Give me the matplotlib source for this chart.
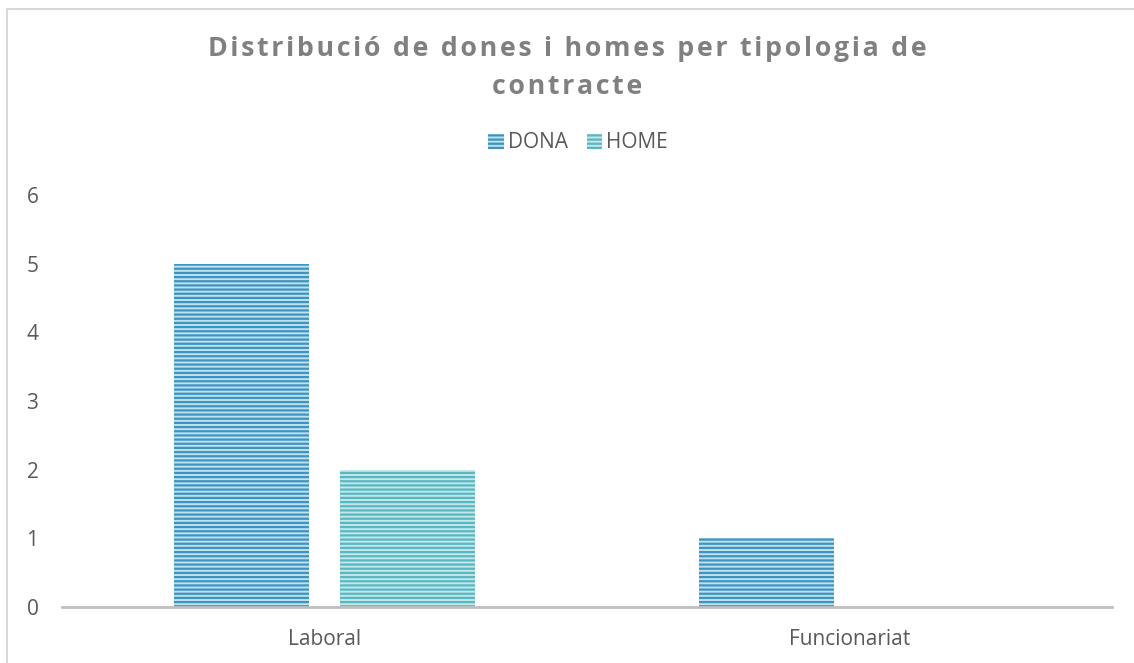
import matplotlib.pyplot as plt
import numpy as np
from matplotlib.lines import Line2D

plt.rcParams['font.family'] = ['Open Sans', 'DejaVu Sans']
plt.rcParams['hatch.linewidth'] = 1.6

# data
categories = ['Laboral', 'Funcionariat']
dona = [5, 1]
home = [2, 0]
series_names = ['DONA', 'HOME']

title_text = 'Distribució de dones i homes per tipologia de\ncontracte'

fig = plt.figure(figsize=(11.34, 6.63), dpi=100)
ax = fig.add_axes([62 / 1134, 1 - 607 / 663, 1050 / 1134, 412 / 663])

x = np.arange(len(categories))
w = 0.258
off = 0.158

ax.bar(x - off, dona, w, color='#C2E1EF', edgecolor='#3A95C2', hatch='----',
       linewidth=0, label=series_names[0])
ax.bar(x + off, home, w, color='#C4E7EA', edgecolor='#58B8C1', hatch='----',
       linewidth=0, label=series_names[1])

ax.set_xlim(-0.5, 1.5)
ax.set_ylim(0, 6)
ax.set_yticks(range(0, 7))
ax.set_xticks(x)
ax.set_xticklabels(categories)
ax.tick_params(axis='both', length=0, labelsize=15, labelcolor='#595959')
ax.tick_params(axis='y', pad=17)
ax.tick_params(axis='x', pad=16)
for s in ['left', 'right', 'top']:
    ax.spines[s].set_visible(False)
ax.spines['bottom'].set_color('#BFBFBF')
ax.spines['bottom'].set_linewidth(2)

# letter-spaced title
def spaced(s):
    lines = []
    for line in s.split('\n'):
        words = ['\u200a'.join(list(wd)) for wd in line.split(' ')]
        lines.append(' \u2009'.join(words))
    return '\n'.join(lines)

fig.text(0.5, 1 - 68 / 663, spaced(title_text), ha='center', va='center',
         fontsize=19.3, fontweight='bold', color='#808080', linespacing=1.6)

leg = fig.legend(loc='center', bbox_to_anchor=(578 / 1134, 1 - 143 / 663), ncol=2,
                 frameon=False, fontsize=15, handlelength=0.75, handleheight=0.75,
                 handletextpad=0.2, columnspacing=0.9)
for t in leg.get_texts():
    t.set_color('#595959')

# chart area border (top and left)
fig.add_artist(Line2D([7 / 1134, 7 / 1134], [0, 1 - 9 / 663], color='#D9D9D9', lw=1.5))
fig.add_artist(Line2D([7 / 1134, 1], [1 - 9 / 663, 1 - 9 / 663], color='#D9D9D9', lw=1.5))

fig.savefig('out.png', dpi=100)
